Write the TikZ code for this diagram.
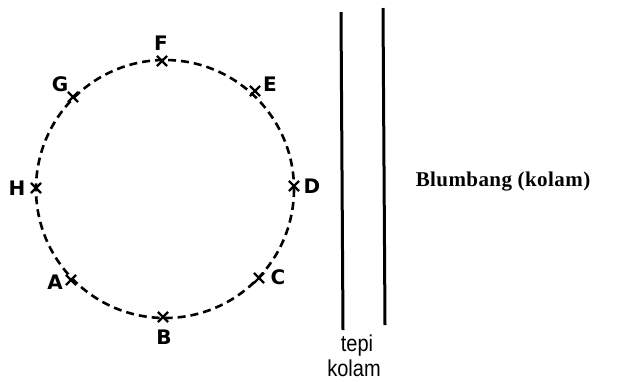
\documentclass[tikz,border=0pt]{standalone}
\usepackage{fontspec}
\setmainfont{Liberation Serif}
\newfontfamily\lettfont{DejaVu Sans}
\newfontfamily\tepifont{Liberation Sans}
\usetikzlibrary{shapes.misc}
\begin{document}
\begin{tikzpicture}[x=1pt,y=-1pt,
  ring/.style={line width=2.6pt, dash pattern=on 8pt off 5pt},
  xmark/.style={cross out, draw, line width=2.2pt, minimum size=8pt, inner sep=0pt},
  lett/.style={font=\lettfont\bfseries\fontsize{20}{20}\selectfont, inner sep=0pt},
  bank/.style={line width=3pt},
  tepi/.style={font=\tepifont\fontsize{20}{20}\selectfont, inner sep=0pt},
  pond/.style={font=\bfseries\fontsize{21}{21}\selectfont, inner sep=0pt}]
\useasboundingbox (0,0) rectangle (632,381);
\coordinate (O) at (165,189);
\draw[ring] (O) circle (129);
\node[xmark] (F) at (162,61) {};
\node[xmark] (E) at (255,91) {};
\node[xmark] (D) at (294,186) {};
\node[xmark] (C) at (259,278) {};
\node[xmark] (B) at (163,317) {};
\node[xmark] (A) at (71,280) {};
\node[xmark] (H) at (36,188) {};
\node[xmark] (G) at (73,97) {};
\node[lett] (lF) at (161,43) {F};
\node[lett] (lE) at (270,84) {E};
\node[lett] (lD) at (312,186) {D};
\node[lett] (lC) at (278,277) {C};
\node[lett] (lB) at (164,337) {B};
\node[lett] (lA) at (55,282) {A};
\node[lett] (lH) at (17,188) {H};
\node[lett] (lG) at (60,84) {G};
\coordinate (L1) at (341,12);
\coordinate (L2) at (343,330);
\coordinate (R1) at (383,8);
\coordinate (R2) at (385,325);
\draw[bank] (L1) -- (L2);
\draw[bank] (R1) -- (R2);
\node[tepi, anchor=base] (tepi) at (357,351) {\scalebox{1}[1.15]{tepi}};
\node[tepi, anchor=base] (kolam) at (354,376) {\scalebox{1}[1.15]{kolam}};
\node[pond] (blum) at (503,182) {\addfontfeature{LetterSpace=2}Blumbang (kolam)};
\end{tikzpicture}
\end{document}
